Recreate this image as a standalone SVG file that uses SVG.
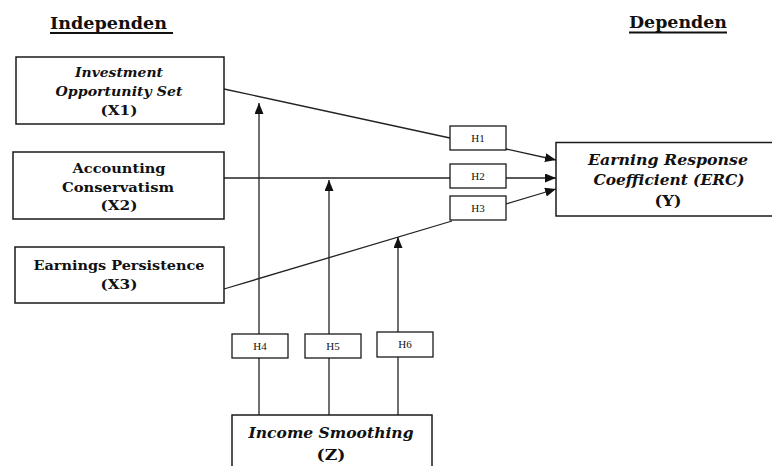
<svg xmlns="http://www.w3.org/2000/svg" width="772" height="466" viewBox="0 0 772 466">
<style>
.box{fill:#fff;stroke:#1a1a1a;stroke-width:1.5}
.hbox{fill:#fff;stroke:#1a1a1a;stroke-width:1.3}
.t{font-family:"DejaVu Serif","Liberation Serif",serif;font-weight:bold;fill:#111;text-anchor:middle}
.it{font-style:italic}
.h{font-family:"Liberation Serif",serif;font-size:11px;fill:#111;text-anchor:middle}
.c{stroke:#222;stroke-width:1.3;fill:none}
.ttl{font-family:"DejaVu Serif","Liberation Serif",serif;font-weight:bold;font-size:16px;fill:#111}
</style>
<defs>
<marker id="ah" markerUnits="userSpaceOnUse" markerWidth="12" markerHeight="10" refX="11" refY="4.5" orient="auto">
<path d="M0,0 L11,4.5 L0,9 z" fill="#111"/>
</marker>
</defs>

<g id="titles">
<text class="ttl" x="50" y="29" textLength="117" lengthAdjust="spacingAndGlyphs">Independen</text>
<line x1="50" y1="33" x2="173" y2="33" stroke="#111" stroke-width="1.8"/>
<text class="ttl" x="629" y="28" textLength="98" lengthAdjust="spacingAndGlyphs">Dependen</text>
<line x1="629" y1="32.5" x2="727" y2="32.5" stroke="#111" stroke-width="1.8"/>
</g>

<g id="connectors">
<line class="c" x1="224" y1="89" x2="450" y2="138"/>
<line class="c" x1="506" y1="149" x2="556" y2="160" marker-end="url(#ah)"/>
<line class="c" x1="224" y1="178" x2="450" y2="178"/>
<line class="c" x1="506" y1="178" x2="556" y2="178" marker-end="url(#ah)"/>
<line class="c" x1="224" y1="289" x2="452" y2="221"/>
<line class="c" x1="506" y1="204" x2="556" y2="189" marker-end="url(#ah)"/>
<line class="c" x1="259" y1="415" x2="259" y2="358"/>
<line class="c" x1="259" y1="334" x2="259" y2="103" marker-end="url(#ah)"/>
<line class="c" x1="329" y1="415" x2="329" y2="358"/>
<line class="c" x1="329" y1="334" x2="329" y2="180" marker-end="url(#ah)"/>
<line class="c" x1="398" y1="415" x2="398" y2="357"/>
<line class="c" x1="398" y1="332" x2="398" y2="237" marker-end="url(#ah)"/>
</g>

<g id="x1">
<rect class="box" x="16" y="57" width="208" height="67"/>
<text class="t it" font-size="13" x="119" y="77" textLength="88" lengthAdjust="spacingAndGlyphs">Investment</text>
<text class="t it" font-size="13" x="119" y="96" textLength="127" lengthAdjust="spacingAndGlyphs">Opportunity Set</text>
<text class="t" font-size="13" x="119" y="115" textLength="37" lengthAdjust="spacingAndGlyphs">(X1)</text>
</g>

<g id="x2">
<rect class="box" x="13" y="152" width="211" height="67"/>
<text class="t" font-size="13" x="119" y="173" textLength="93" lengthAdjust="spacingAndGlyphs">Accounting</text>
<text class="t" font-size="13" x="118" y="192" textLength="112" lengthAdjust="spacingAndGlyphs">Conservatism</text>
<text class="t" font-size="13" x="119" y="210" textLength="37" lengthAdjust="spacingAndGlyphs">(X2)</text>
</g>

<g id="x3">
<rect class="box" x="15" y="247" width="209" height="56"/>
<text class="t" font-size="13" x="119" y="270" textLength="171" lengthAdjust="spacingAndGlyphs">Earnings Persistence</text>
<text class="t" font-size="13" x="119" y="289" textLength="37" lengthAdjust="spacingAndGlyphs">(X3)</text>
</g>

<g id="y">
<rect class="box" x="556" y="142.5" width="230" height="73.5"/>
<text class="t it" font-size="15" x="668" y="165" textLength="160" lengthAdjust="spacingAndGlyphs">Earning Response</text>
<text class="t it" font-size="15" x="669" y="185" textLength="151" lengthAdjust="spacingAndGlyphs">Coefficient (ERC)</text>
<text class="t" font-size="15" x="668" y="206" textLength="27" lengthAdjust="spacingAndGlyphs">(Y)</text>
</g>

<g id="z">
<rect class="box" x="232" y="415" width="200" height="70"/>
<text class="t it" font-size="15" x="331" y="438" textLength="165" lengthAdjust="spacingAndGlyphs">Income Smoothing</text>
<text class="t" font-size="15" x="331" y="460" textLength="29" lengthAdjust="spacingAndGlyphs">(Z)</text>
</g>

<g id="h1"><rect class="hbox" x="450" y="126" width="56" height="24"/><text class="h" x="478" y="142">H1</text></g>
<g id="h2"><rect class="hbox" x="450" y="164" width="56" height="24"/><text class="h" x="478" y="180">H2</text></g>
<g id="h3"><rect class="hbox" x="450" y="196" width="56" height="24"/><text class="h" x="478" y="212">H3</text></g>
<g id="h4"><rect class="hbox" x="232" y="334" width="56" height="24"/><text class="h" x="260" y="350">H4</text></g>
<g id="h5"><rect class="hbox" x="305" y="334" width="56" height="24"/><text class="h" x="333" y="350">H5</text></g>
<g id="h6"><rect class="hbox" x="377" y="332" width="56" height="25"/><text class="h" x="405" y="348">H6</text></g>
</svg>
